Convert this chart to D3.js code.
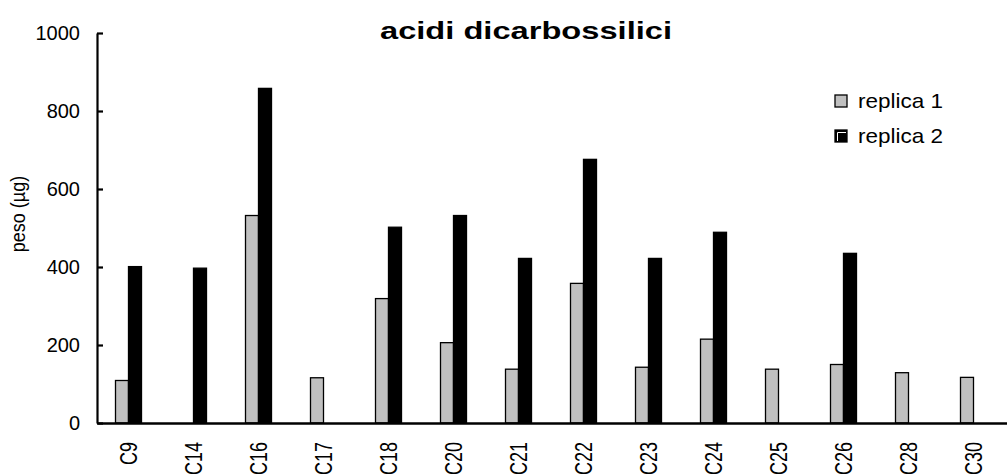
<!DOCTYPE html>
<html>
<head>
<meta charset="utf-8">
<script src="https://cdn.jsdelivr.net/npm/d3@7"></script>
<style>
  body { margin: 0; background: #fff; }
  text { font-family: "Liberation Sans", Arial, sans-serif; fill: #000; }
</style>
</head>
<body>
<div id="chart"></div>
<script>
"use strict";

var categories = ["C9", "C14", "C16", "C17", "C18", "C20", "C21", "C22", "C23", "C24", "C25", "C26", "C28", "C30"];
var replica1 = [109, 0, 532, 116, 319, 206, 138, 358, 143, 215, 138, 150, 129, 117];
var replica2 = [401, 397, 858, 0, 502, 532, 422, 676, 422, 489, 0, 435, 0, 0];
var seriesNames = ["replica 1", "replica 2"];
var seriesColors = ["#c0c0c0", "#000000"];
var yTicks = [0, 200, 400, 600, 800, 1000];

var width = 1007, height = 476;
var plotLeft = 97, plotRight = 1007, plotTop = 33, plotBottom = 423;

var svg = d3.select("#chart")
  .append("svg")
  .attr("width", width)
  .attr("height", height);

var x = d3.scaleBand().domain(categories).range([plotLeft, plotRight]).padding(0);
var xs = d3.scaleBand().domain(seriesNames).range([-14, 12]).padding(0);
var y = d3.scaleLinear().domain([0, 1000]).range([plotBottom, plotTop]);

// bars
var rows = categories.map(function(c, i) {
  return { cat: c, vals: [replica1[i], replica2[i]] };
});

var groups = svg.append("g").selectAll("g")
  .data(rows)
  .join("g")
  .attr("transform", function(d) { return "translate(" + (x(d.cat) + x.bandwidth() / 2) + ",0)"; });

groups.selectAll("rect")
  .data(function(d) {
    return d.vals.map(function(v, k) { return { name: seriesNames[k], v: v, k: k }; })
      .filter(function(e) { return e.v > 0; });
  })
  .join("rect")
  .attr("x", function(e) { return xs(e.name); })
  .attr("width", xs.bandwidth())
  .attr("y", function(e) { return y(e.v); })
  .attr("height", function(e) { return y(0) - y(e.v); })
  .attr("fill", function(e) { return seriesColors[e.k]; })
  .attr("stroke", "#000")
  .attr("stroke-width", 1.3);

// y axis, ticks pointing inside
var yAxis = svg.append("g")
  .attr("transform", "translate(" + plotLeft + ",0)")
  .call(d3.axisLeft(y).tickValues(yTicks).tickFormat(d3.format("d"))
    .tickSize(-6).tickPadding(17).tickSizeOuter(0));
yAxis.select(".domain").attr("stroke-width", 2.2);
yAxis.selectAll(".tick line").attr("stroke-width", 2.2);
yAxis.selectAll(".tick text")
  .attr("font-size", 20)
  .attr("font-family", "Liberation Sans, Arial, sans-serif");

// x axis
var xAxis = svg.append("g")
  .attr("transform", "translate(0," + plotBottom + ")")
  .call(d3.axisBottom(x).tickSize(0).tickSizeOuter(0));
xAxis.select(".domain").attr("stroke-width", 2.4);
xAxis.selectAll(".tick text")
  .attr("font-size", 18)
  .attr("font-family", "Liberation Sans, Arial, sans-serif")
  .attr("text-anchor", "end")
  .attr("dy", null)
  .attr("y", null)
  .attr("transform", "translate(7,19) rotate(-90) scale(1,1.3)");

// axis title
svg.append("text")
  .attr("transform", "translate(25,214) rotate(-90) scale(1,1.1)")
  .attr("text-anchor", "middle")
  .attr("font-size", 18)
  .text("peso (µg)");

// chart title
svg.append("text")
  .attr("x", 380)
  .attr("y", 39)
  .attr("font-size", 24)
  .attr("font-weight", "bold")
  .attr("textLength", 292)
  .attr("lengthAdjust", "spacingAndGlyphs")
  .text("acidi dicarbossilici");

// legend
var legend = svg.append("g").selectAll("g")
  .data(seriesNames)
  .join("g")
  .attr("transform", function(d, i) { return "translate(835," + (95 + i * 35) + ")"; });

legend.append("rect")
  .attr("width", 12)
  .attr("height", 12)
  .attr("fill", function(d, i) { return seriesColors[i]; })
  .attr("stroke", "#000")
  .attr("stroke-width", 1.3);

// white inner edge on the dark swatch
legend.filter(function(d, i) { return i === 1; })
  .append("path")
  .attr("d", "M2.5,11V2.5H11")
  .attr("fill", "none")
  .attr("stroke", "#fff")
  .attr("stroke-width", 1);

legend.append("text")
  .attr("x", 23)
  .attr("y", 13)
  .attr("font-size", 21)
  .attr("textLength", 85)
  .attr("lengthAdjust", "spacingAndGlyphs")
  .text(function(d) { return d; });
</script>
</body>
</html>
